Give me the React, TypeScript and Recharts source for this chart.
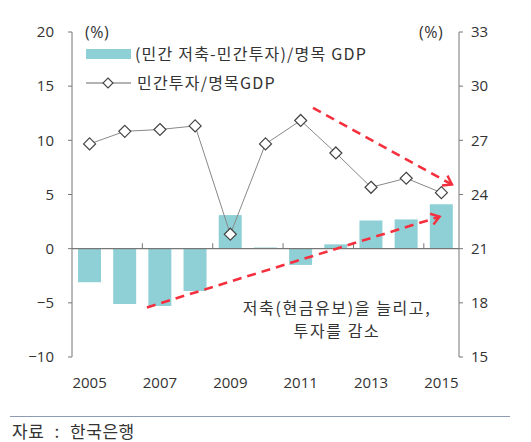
import {
  ComposedChart,
  Bar,
  Line,
  XAxis,
  YAxis,
  ReferenceLine,
} from 'recharts'

const years = ['2005', '2006', '2007', '2008', '2009', '2010', '2011', '2012', '2013', '2014', '2015']
const savingGap = [-3.1, -5.1, -5.3, -3.9, 3.1, 0.1, -1.5, 0.4, 2.6, 2.7, 4.1]
const investment = [26.8, 27.5, 27.6, 27.8, 21.8, 26.8, 28.1, 26.3, 24.4, 24.9, 24.1]
const leftTicks = [-10, -5, 0, 5, 10, 15, 20]
const rightTicks = [15, 18, 21, 24, 27, 30, 33]
// positions (in year-index units) of the small marks on the zero line
const zeroMarks = [1.5, 3.5, 5.5, 7.5, 9.5]

const barName = '(민간 저축-민간투자)/명목 GDP'
const lineName = '민간투자/명목GDP'

const data = years.map((year, i) => ({
  year,
  idx: i,
  gap: savingGap[i],
  inv: investment[i],
}))

const RED = '#f5303e'
const BAR = '#8fd0d6'
const AXIS = '#777'
const TXT = '#333'
const NUM_FONT = '"Open Sans", "Noto Sans", sans-serif'
const KR_FONT = '"Noto Sans CJK KR", sans-serif'

function Diamond(props: any) {
  const { cx, cy } = props
  if (cx == null || cy == null) return null
  const r = 6
  return (
    <path
      d={`M${cx},${cy - r} L${cx + r},${cy} L${cx},${cy + r} L${cx - r},${cy} Z`}
      fill="#fff"
      stroke="#444"
      strokeWidth={1.2}
    />
  )
}

function DashedArrow(props: any) {
  const { x1, y1, x2, y2 } = props
  if ([x1, y1, x2, y2].some((v) => v == null || isNaN(v))) return null
  const a = Math.atan2(y2 - y1, x2 - x1)
  const len = 10
  const spread = 0.6
  const hx1 = x2 - len * Math.cos(a - spread)
  const hy1 = y2 - len * Math.sin(a - spread)
  const hx2 = x2 - len * Math.cos(a + spread)
  const hy2 = y2 - len * Math.sin(a + spread)
  return (
    <g>
      <line x1={x1} y1={y1} x2={x2} y2={y2} stroke={RED} strokeWidth={2.6} strokeDasharray="9 6" />
      <polyline
        points={`${hx1},${hy1} ${x2},${y2} ${hx2},${hy2}`}
        fill="none"
        stroke={RED}
        strokeWidth={2.4}
      />
    </g>
  )
}

function ChartLegend() {
  return (
    <div
      style={{
        position: 'absolute',
        left: 86,
        top: 39,
        fontFamily: KR_FONT,
        fontSize: 16,
        letterSpacing: 1.2,
        color: TXT,
        lineHeight: '29px',
        whiteSpace: 'nowrap',
      }}
    >
      <div style={{ display: 'flex', alignItems: 'center' }}>
        <span style={{ display: 'inline-block', width: 45, height: 10, background: BAR, marginRight: 4 }} />
        <span>{barName}</span>
      </div>
      <div style={{ display: 'flex', alignItems: 'center' }}>
        <svg width={49} height={14} style={{ marginRight: 2 }}>
          <line x1={0} y1={7} x2={45} y2={7} stroke="#666" strokeWidth={1} />
          <path d="M22,2 L27,7 L22,12 L17,7 Z" fill="#fff" stroke="#444" strokeWidth={1.1} />
        </svg>
        <span>{lineName}</span>
      </div>
    </div>
  )
}

const minus = (v: number) => String(v).replace('-', '−')

const noteStyle = {
  position: 'absolute' as const,
  left: 237,
  width: 200,
  height: 23,
  textAlign: 'center' as const,
  fontFamily: KR_FONT,
  fontSize: 16,
  letterSpacing: 1.6,
  lineHeight: '23px',
  color: TXT,
  whiteSpace: 'nowrap' as const,
}

const unitStyle = {
  position: 'absolute' as const,
  top: 21,
  fontFamily: NUM_FONT,
  fontSize: 16,
  letterSpacing: 0.5,
  color: TXT,
}

export default function App() {
  return (
    <div style={{ position: 'absolute', left: 0, top: 0, width: 531, height: 442, background: '#fff' }}>
      <ComposedChart
        width={531}
        height={410}
        data={data}
        margin={{ top: 32, right: 12, bottom: 23, left: 12 }}
      >
        <XAxis
          dataKey="year"
          interval={1}
          axisLine={false}
          tickLine={false}
          tickMargin={14}
          height={30}
          tick={{ fontSize: 15, fill: TXT, fontFamily: NUM_FONT }}
        />
        <XAxis
          xAxisId="n"
          dataKey="idx"
          type="number"
          domain={[-0.5, 10.5]}
          allowDataOverflow
          hide
        />
        <YAxis
          yAxisId="left"
          width={60}
          domain={[-10, 20]}
          ticks={leftTicks}
          interval={0}
          tickSize={4}
          tickMargin={14}
          stroke={AXIS}
          tickFormatter={minus}
          tick={{ fontSize: 15, fill: TXT, fontFamily: NUM_FONT }}
        />
        <YAxis
          yAxisId="right"
          orientation="right"
          width={60}
          domain={[15, 33]}
          ticks={rightTicks}
          interval={0}
          tickSize={4}
          tickMargin={8}
          stroke={AXIS}
          tick={{ fontSize: 15, fill: TXT, fontFamily: NUM_FONT, textAnchor: 'start' }}
        />
        <ReferenceLine yAxisId="left" y={0} stroke={AXIS} strokeWidth={1.2} />
        {zeroMarks.map((x) => (
          <ReferenceLine
            key={x}
            xAxisId="n"
            yAxisId="left"
            stroke={AXIS}
            ifOverflow="visible"
            segment={[{ x, y: 0 }, { x, y: 0.5 }]}
          />
        ))}
        <Bar yAxisId="left" dataKey="gap" name={barName} fill={BAR} barSize={23} isAnimationActive={false} />
        <Line
          yAxisId="right"
          dataKey="inv"
          name={lineName}
          stroke="#888"
          strokeWidth={1}
          dot={<Diamond />}
          activeDot={false}
          isAnimationActive={false}
        />
        <ReferenceLine
          xAxisId="n"
          yAxisId="right"
          ifOverflow="visible"
          segment={[{ x: 6.35, y: 28.8 }, { x: 10.3, y: 24.55 }]}
          shape={<DashedArrow />}
        />
        <ReferenceLine
          xAxisId="n"
          yAxisId="left"
          ifOverflow="visible"
          segment={[{ x: 1.63, y: -5.42 }, { x: 9.95, y: 2.95 }]}
          shape={<DashedArrow />}
        />
      </ComposedChart>
      <ChartLegend />
      <div style={{ ...unitStyle, left: 85 }}>(%)</div>
      <div style={{ ...unitStyle, left: 419 }}>(%)</div>
      <div style={{ ...noteStyle, top: 296 }}>저축(현금유보)을 늘리고,</div>
      <div style={{ ...noteStyle, top: 319 }}>투자를 감소</div>
      <div style={{ position: 'absolute', left: 10, top: 416, width: 500, borderTop: '1px solid #8d9cb0' }} />
      <div
        style={{
          position: 'absolute',
          left: 12,
          top: 418,
          fontFamily: KR_FONT,
          fontSize: 17,
          letterSpacing: 0.5,
          wordSpacing: 6,
          color: TXT,
          whiteSpace: 'pre',
        }}
      >
        자료 : 한국은행
      </div>
    </div>
  )
}
